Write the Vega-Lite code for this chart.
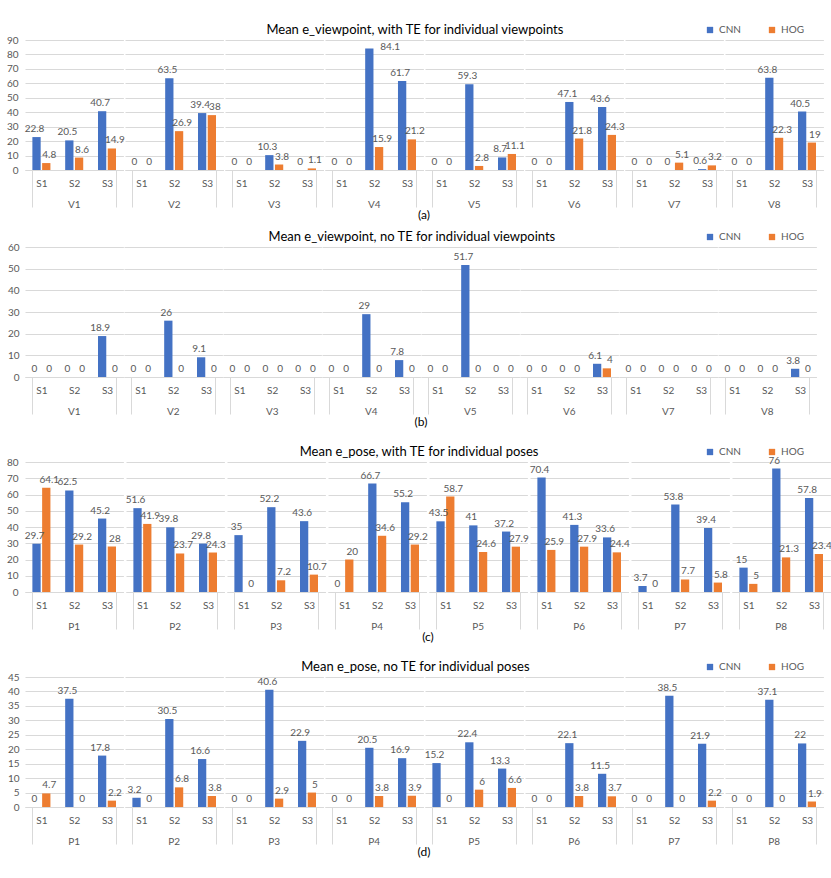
{
  "$schema": "https://vega.github.io/schema/vega-lite/v6.json",
  "padding": {"left": 6, "top": 24, "right": 5, "bottom": 5},
  "datasets": {
    "a": [
      {"group": "V1", "sub": "S1", "CNN": 22.8, "HOG": 4.8},
      {"group": "V1", "sub": "S2", "CNN": 20.5, "HOG": 8.6},
      {"group": "V1", "sub": "S3", "CNN": 40.7, "HOG": 14.9},
      {"group": "V2", "sub": "S1", "CNN": 0, "HOG": 0},
      {"group": "V2", "sub": "S2", "CNN": 63.5, "HOG": 26.9},
      {"group": "V2", "sub": "S3", "CNN": 39.4, "HOG": 38},
      {"group": "V3", "sub": "S1", "CNN": 0, "HOG": 0},
      {"group": "V3", "sub": "S2", "CNN": 10.3, "HOG": 3.8},
      {"group": "V3", "sub": "S3", "CNN": 0, "HOG": 1.1},
      {"group": "V4", "sub": "S1", "CNN": 0, "HOG": 0},
      {"group": "V4", "sub": "S2", "CNN": 84.1, "HOG": 15.9},
      {"group": "V4", "sub": "S3", "CNN": 61.7, "HOG": 21.2},
      {"group": "V5", "sub": "S1", "CNN": 0, "HOG": 0},
      {"group": "V5", "sub": "S2", "CNN": 59.3, "HOG": 2.8},
      {"group": "V5", "sub": "S3", "CNN": 8.7, "HOG": 11.1},
      {"group": "V6", "sub": "S1", "CNN": 0, "HOG": 0},
      {"group": "V6", "sub": "S2", "CNN": 47.1, "HOG": 21.8},
      {"group": "V6", "sub": "S3", "CNN": 43.6, "HOG": 24.3},
      {"group": "V7", "sub": "S1", "CNN": 0, "HOG": 0},
      {"group": "V7", "sub": "S2", "CNN": 0, "HOG": 5.1},
      {"group": "V7", "sub": "S3", "CNN": 0.6, "HOG": 3.2},
      {"group": "V8", "sub": "S1", "CNN": 0, "HOG": 0},
      {"group": "V8", "sub": "S2", "CNN": 63.8, "HOG": 22.3},
      {"group": "V8", "sub": "S3", "CNN": 40.5, "HOG": 19}
    ],
    "b": [
      {"group": "V1", "sub": "S1", "CNN": 0, "HOG": 0},
      {"group": "V1", "sub": "S2", "CNN": 0, "HOG": 0},
      {"group": "V1", "sub": "S3", "CNN": 18.9, "HOG": 0},
      {"group": "V2", "sub": "S1", "CNN": 0, "HOG": 0},
      {"group": "V2", "sub": "S2", "CNN": 26, "HOG": 0},
      {"group": "V2", "sub": "S3", "CNN": 9.1, "HOG": 0},
      {"group": "V3", "sub": "S1", "CNN": 0, "HOG": 0},
      {"group": "V3", "sub": "S2", "CNN": 0, "HOG": 0},
      {"group": "V3", "sub": "S3", "CNN": 0, "HOG": 0},
      {"group": "V4", "sub": "S1", "CNN": 0, "HOG": 0},
      {"group": "V4", "sub": "S2", "CNN": 29, "HOG": 0},
      {"group": "V4", "sub": "S3", "CNN": 7.8, "HOG": 0},
      {"group": "V5", "sub": "S1", "CNN": 0, "HOG": 0},
      {"group": "V5", "sub": "S2", "CNN": 51.7, "HOG": 0},
      {"group": "V5", "sub": "S3", "CNN": 0, "HOG": 0},
      {"group": "V6", "sub": "S1", "CNN": 0, "HOG": 0},
      {"group": "V6", "sub": "S2", "CNN": 0, "HOG": 0},
      {"group": "V6", "sub": "S3", "CNN": 6.1, "HOG": 4},
      {"group": "V7", "sub": "S1", "CNN": 0, "HOG": 0},
      {"group": "V7", "sub": "S2", "CNN": 0, "HOG": 0},
      {"group": "V7", "sub": "S3", "CNN": 0, "HOG": 0},
      {"group": "V8", "sub": "S1", "CNN": 0, "HOG": 0},
      {"group": "V8", "sub": "S2", "CNN": 0, "HOG": 0},
      {"group": "V8", "sub": "S3", "CNN": 3.8, "HOG": 0}
    ],
    "c": [
      {"group": "P1", "sub": "S1", "CNN": 29.7, "HOG": 64.1},
      {"group": "P1", "sub": "S2", "CNN": 62.5, "HOG": 29.2},
      {"group": "P1", "sub": "S3", "CNN": 45.2, "HOG": 28},
      {"group": "P2", "sub": "S1", "CNN": 51.6, "HOG": 41.9},
      {"group": "P2", "sub": "S2", "CNN": 39.8, "HOG": 23.7},
      {"group": "P2", "sub": "S3", "CNN": 29.8, "HOG": 24.3},
      {"group": "P3", "sub": "S1", "CNN": 35, "HOG": 0},
      {"group": "P3", "sub": "S2", "CNN": 52.2, "HOG": 7.2},
      {"group": "P3", "sub": "S3", "CNN": 43.6, "HOG": 10.7},
      {"group": "P4", "sub": "S1", "CNN": 0, "HOG": 20},
      {"group": "P4", "sub": "S2", "CNN": 66.7, "HOG": 34.6},
      {"group": "P4", "sub": "S3", "CNN": 55.2, "HOG": 29.2},
      {"group": "P5", "sub": "S1", "CNN": 43.5, "HOG": 58.7},
      {"group": "P5", "sub": "S2", "CNN": 41, "HOG": 24.6},
      {"group": "P5", "sub": "S3", "CNN": 37.2, "HOG": 27.9},
      {"group": "P6", "sub": "S1", "CNN": 70.4, "HOG": 25.9},
      {"group": "P6", "sub": "S2", "CNN": 41.3, "HOG": 27.9},
      {"group": "P6", "sub": "S3", "CNN": 33.6, "HOG": 24.4},
      {"group": "P7", "sub": "S1", "CNN": 3.7, "HOG": 0},
      {"group": "P7", "sub": "S2", "CNN": 53.8, "HOG": 7.7},
      {"group": "P7", "sub": "S3", "CNN": 39.4, "HOG": 5.8},
      {"group": "P8", "sub": "S1", "CNN": 15, "HOG": 5},
      {"group": "P8", "sub": "S2", "CNN": 76, "HOG": 21.3},
      {"group": "P8", "sub": "S3", "CNN": 57.8, "HOG": 23.4}
    ],
    "d": [
      {"group": "P1", "sub": "S1", "CNN": 0, "HOG": 4.7},
      {"group": "P1", "sub": "S2", "CNN": 37.5, "HOG": 0},
      {"group": "P1", "sub": "S3", "CNN": 17.8, "HOG": 2.2},
      {"group": "P2", "sub": "S1", "CNN": 3.2, "HOG": 0},
      {"group": "P2", "sub": "S2", "CNN": 30.5, "HOG": 6.8},
      {"group": "P2", "sub": "S3", "CNN": 16.6, "HOG": 3.8},
      {"group": "P3", "sub": "S1", "CNN": 0, "HOG": 0},
      {"group": "P3", "sub": "S2", "CNN": 40.6, "HOG": 2.9},
      {"group": "P3", "sub": "S3", "CNN": 22.9, "HOG": 5},
      {"group": "P4", "sub": "S1", "CNN": 0, "HOG": 0},
      {"group": "P4", "sub": "S2", "CNN": 20.5, "HOG": 3.8},
      {"group": "P4", "sub": "S3", "CNN": 16.9, "HOG": 3.9},
      {"group": "P5", "sub": "S1", "CNN": 15.2, "HOG": 0},
      {"group": "P5", "sub": "S2", "CNN": 22.4, "HOG": 6},
      {"group": "P5", "sub": "S3", "CNN": 13.3, "HOG": 6.6},
      {"group": "P6", "sub": "S1", "CNN": 0, "HOG": 0},
      {"group": "P6", "sub": "S2", "CNN": 22.1, "HOG": 3.8},
      {"group": "P6", "sub": "S3", "CNN": 11.5, "HOG": 3.7},
      {"group": "P7", "sub": "S1", "CNN": 0, "HOG": 0},
      {"group": "P7", "sub": "S2", "CNN": 38.5, "HOG": 0},
      {"group": "P7", "sub": "S3", "CNN": 21.9, "HOG": 2.2},
      {"group": "P8", "sub": "S1", "CNN": 0, "HOG": 0},
      {"group": "P8", "sub": "S2", "CNN": 37.1, "HOG": 0},
      {"group": "P8", "sub": "S3", "CNN": 22, "HOG": 1.9}
    ]
  },
  "vconcat": [
    {
      "data": {"name": "a"},
      "transform": [{"fold": ["CNN", "HOG"], "as": ["method", "value"]}],
      "title": "Mean e_viewpoint, with TE for individual viewpoints",
      "facet": {"column": {"field": "group", "type": "nominal", "header": {"title": "(a)"}}},
      "spec": {
        "width": 98.4,
        "height": 130,
        "encoding": {
          "x": {"field": "sub", "type": "nominal", "scale": {"paddingInner": 0.45, "paddingOuter": 0.225},
            "axis": {"tickColor": {"condition": {"test": "datum.label === 'S3' || datum.extra", "value": "#d9d9d9"}, "value": "transparent"}}},
          "xOffset": {"field": "method", "scale": {"paddingInner": 0.15}},
          "y": {"field": "value", "type": "quantitative", "scale": {"domain": [0, 90], "nice": false},
            "axis": {"values": [0, 10, 20, 30, 40, 50, 60, 70, 80, 90]}}
        },
        "layer": [
          {"mark": "bar", "encoding": {"color": {"field": "method", "type": "nominal",
            "scale": {"domain": ["CNN", "HOG"], "range": ["#4472C4", "#ED7D31"]}, "legend": {"title": null}}}},
          {"transform": [{"filter": "datum.method === 'CNN' && datum.value < 80"}],
            "mark": {"type": "text", "baseline": "bottom", "dy": -3, "dx": -2, "fontSize": 10, "color": "#595959"},
            "encoding": {"text": {"field": "value", "type": "nominal"}}},
          {"transform": [{"filter": "datum.method === 'CNN' && datum.value >= 80"}],
            "mark": {"type": "text", "align": "left", "baseline": "middle", "dy": -2, "dx": 11, "fontSize": 10, "color": "#595959"},
            "encoding": {"text": {"field": "value", "type": "nominal"}}},
          {"transform": [{"filter": "datum.method === 'HOG'"}],
            "mark": {"type": "text", "baseline": "bottom", "dy": -3, "dx": 3, "fontSize": 10, "color": "#595959"},
            "encoding": {"text": {"field": "value", "type": "nominal"}}}
        ]
      }
    },
    {
      "data": {"name": "b"},
      "transform": [{"fold": ["CNN", "HOG"], "as": ["method", "value"]}],
      "title": "Mean e_viewpoint, no TE for individual viewpoints",
      "facet": {"column": {"field": "group", "type": "nominal", "header": {"title": "(b)"}}},
      "spec": {
        "width": 98.4,
        "height": 130,
        "encoding": {
          "x": {"field": "sub", "type": "nominal", "scale": {"paddingInner": 0.45, "paddingOuter": 0.225},
            "axis": {"tickColor": {"condition": {"test": "datum.label === 'S3' || datum.extra", "value": "#d9d9d9"}, "value": "transparent"}}},
          "xOffset": {"field": "method", "scale": {"paddingInner": 0.15}},
          "y": {"field": "value", "type": "quantitative", "scale": {"domain": [0, 60], "nice": false},
            "axis": {"values": [0, 10, 20, 30, 40, 50, 60]}}
        },
        "layer": [
          {"mark": "bar", "encoding": {"color": {"field": "method", "type": "nominal",
            "scale": {"domain": ["CNN", "HOG"], "range": ["#4472C4", "#ED7D31"]}, "legend": {"title": null}}}},
          {"transform": [{"filter": "datum.method === 'CNN'"}],
            "mark": {"type": "text", "baseline": "bottom", "dy": -3, "dx": -2, "fontSize": 10, "color": "#595959"},
            "encoding": {"text": {"field": "value", "type": "nominal"}}},
          {"transform": [{"filter": "datum.method === 'HOG'"}],
            "mark": {"type": "text", "baseline": "bottom", "dy": -3, "dx": 3, "fontSize": 10, "color": "#595959"},
            "encoding": {"text": {"field": "value", "type": "nominal"}}}
        ]
      }
    },
    {
      "data": {"name": "c"},
      "transform": [{"fold": ["CNN", "HOG"], "as": ["method", "value"]}],
      "title": {"text": ["", "Mean e_pose, with TE for individual poses"], "lineHeight": 8},
      "facet": {"column": {"field": "group", "type": "nominal", "header": {"title": "(c)"}}},
      "spec": {
        "width": 98.4,
        "height": 130,
        "encoding": {
          "x": {"field": "sub", "type": "nominal", "scale": {"paddingInner": 0.45, "paddingOuter": 0.225},
            "axis": {"tickColor": {"condition": {"test": "datum.label === 'S3' || datum.extra", "value": "#d9d9d9"}, "value": "transparent"}}},
          "xOffset": {"field": "method", "scale": {"paddingInner": 0.15}},
          "y": {"field": "value", "type": "quantitative", "scale": {"domain": [0, 80], "nice": false},
            "axis": {"values": [0, 10, 20, 30, 40, 50, 60, 70, 80]}}
        },
        "layer": [
          {"mark": "bar", "encoding": {"color": {"field": "method", "type": "nominal",
            "scale": {"domain": ["CNN", "HOG"], "range": ["#4472C4", "#ED7D31"]}, "legend": {"title": null}}}},
          {"transform": [{"filter": "datum.method === 'CNN'"}],
            "mark": {"type": "text", "baseline": "bottom", "dy": -3, "dx": -2, "fontSize": 10, "color": "#595959"},
            "encoding": {"text": {"field": "value", "type": "nominal"}}},
          {"transform": [{"filter": "datum.method === 'HOG'"}],
            "mark": {"type": "text", "baseline": "bottom", "dy": -3, "dx": 3, "fontSize": 10, "color": "#595959"},
            "encoding": {"text": {"field": "value", "type": "nominal"}}}
        ]
      }
    },
    {
      "data": {"name": "d"},
      "transform": [{"fold": ["CNN", "HOG"], "as": ["method", "value"]}],
      "title": {"text": ["", "Mean e_pose, no TE for individual poses"], "lineHeight": 8},
      "facet": {"column": {"field": "group", "type": "nominal", "header": {"title": "(d)"}}},
      "spec": {
        "width": 98.4,
        "height": 130,
        "encoding": {
          "x": {"field": "sub", "type": "nominal", "scale": {"paddingInner": 0.45, "paddingOuter": 0.225},
            "axis": {"tickColor": {"condition": {"test": "datum.label === 'S3' || datum.extra", "value": "#d9d9d9"}, "value": "transparent"}}},
          "xOffset": {"field": "method", "scale": {"paddingInner": 0.15}},
          "y": {"field": "value", "type": "quantitative", "scale": {"domain": [0, 45], "nice": false},
            "axis": {"values": [0, 5, 10, 15, 20, 25, 30, 35, 40, 45]}}
        },
        "layer": [
          {"mark": "bar", "encoding": {"color": {"field": "method", "type": "nominal",
            "scale": {"domain": ["CNN", "HOG"], "range": ["#4472C4", "#ED7D31"]}, "legend": {"title": null}}}},
          {"transform": [{"filter": "datum.method === 'CNN'"}],
            "mark": {"type": "text", "baseline": "bottom", "dy": -3, "dx": -2, "fontSize": 10, "color": "#595959"},
            "encoding": {"text": {"field": "value", "type": "nominal"}}},
          {"transform": [{"filter": "datum.method === 'HOG'"}],
            "mark": {"type": "text", "baseline": "bottom", "dy": -3, "dx": 3, "fontSize": 10, "color": "#595959"},
            "encoding": {"text": {"field": "value", "type": "nominal"}}}
        ]
      }
    }
  ],
  "resolve": {
    "scale": {"x": "independent", "y": "independent", "color": "independent"},
    "legend": {"color": "independent"}
  },
  "config": {
    "font": "Lato",
    "view": {"stroke": null},
    "facet": {"spacing": 0},
    "concat": {"spacing": 10},
    "title": {"fontSize": 13, "fontWeight": "normal", "color": "#000000", "offset": -12, "anchor": "middle"},
    "axisY": {"domain": false, "ticks": false, "labelColor": "#595959", "labelFontSize": 10, "gridColor": "#d9d9d9", "title": null, "labelPadding": 6},
    "axisX": {"domainColor": "#d9d9d9", "labelColor": "#595959", "labelFontSize": 10, "labelAngle": 0, "grid": false, "tickBand": "extent", "tickSize": 37, "labelPadding": -29, "title": null},
    "header": {"labelOrient": "bottom", "labelColor": "#595959", "labelFontSize": 10, "labelPadding": -8, "titleOrient": "bottom", "titleFontSize": 12, "titleFontWeight": "normal", "titleColor": "#000000", "titlePadding": -10},
    "legend": {"orient": "none", "direction": "horizontal", "symbolType": "square", "symbolSize": 40, "labelColor": "#595959", "labelFontSize": 10, "columnPadding": 26, "legendX": 680, "legendY": -15}
  }
}
